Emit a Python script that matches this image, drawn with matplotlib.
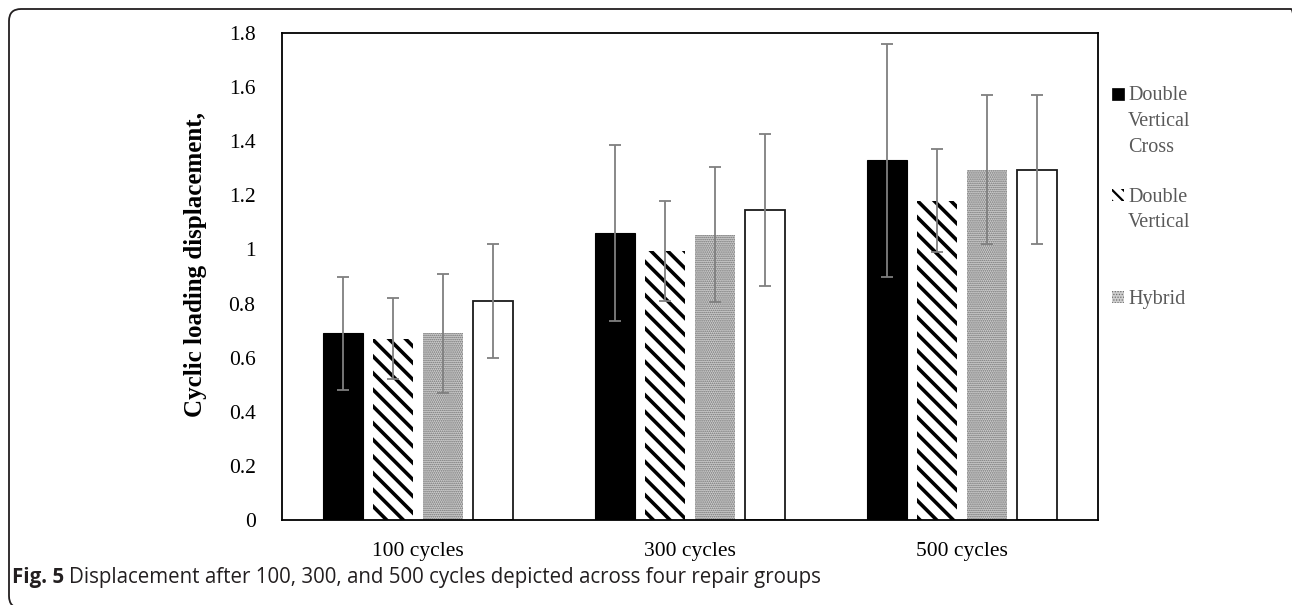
import numpy as np
import matplotlib
matplotlib.use("Agg")
import matplotlib.pyplot as plt
from matplotlib.patches import Rectangle, FancyBboxPatch
from matplotlib.transforms import IdentityTransform

# data
groups = ["100 cycles", "300 cycles", "500 cycles"]
dvc_mean = [0.69, 1.06, 1.33]
dvc_err = [0.21, 0.325, 0.43]
dv_mean = [0.67, 0.995, 1.18]
dv_err = [0.15, 0.185, 0.19]
hyb_mean = [0.69, 1.055, 1.295]
hyb_err = [0.22, 0.25, 0.275]
other_mean = [0.81, 1.145, 1.295]
other_err = [0.21, 0.28, 0.275]
legend_labels = ["Double\nVertical\nCross", "Double\nVertical", "Hybrid"]
y_ticks = [0, 0.2, 0.4, 0.6, 0.8, 1, 1.2, 1.4, 1.6, 1.8]
y_ticklabels = ["0", "0.2", "0.4", "0.6", "0.8", "1", "1.2", "1.4", "1.6", "1.8"]

SERIF = "Liberation Serif"
ERR_C = "#7f7f7f"
W, H = 1292, 605

fig = plt.figure(figsize=(W / 100, H / 100), dpi=100)
ax = fig.add_axes([282 / W, 1 - 520 / H, (1098 - 282) / W, (520 - 33) / H])

x = np.arange(len(groups))
w = 0.145
pitch = 0.184
offsets = (np.arange(4) - 1.5) * pitch
ekw = dict(ecolor=ERR_C, elinewidth=1.3, capsize=4, capthick=1.3)


def hatched_bars(pos, mean, err, lw_hatch, **kw):
    with plt.rc_context({"hatch.linewidth": lw_hatch}):
        bars = ax.bar(pos, mean, w, yerr=err, error_kw=ekw, **kw)
    for b in bars:
        if hasattr(b, "set_hatch_linewidth"):
            b.set_hatch_linewidth(lw_hatch)
    return bars


ax.bar(x + offsets[0], dvc_mean, w, yerr=dvc_err, color="black",
       edgecolor="black", linewidth=0.8, error_kw=ekw)
hatched_bars(x + offsets[1], dv_mean, dv_err, 2.6, facecolor="white",
             edgecolor="black", hatch="\\\\", linewidth=0)
hatched_bars(x + offsets[2], hyb_mean, hyb_err, 0.8, facecolor="#cfcfcf",
             edgecolor="#6e6e6e", hatch="........", linewidth=0)
ax.bar(x + offsets[3], other_mean, w, yerr=other_err, facecolor="white",
       edgecolor="#1a1a1a", linewidth=1.3, error_kw=ekw)

ax.set_xlim(-0.5, 2.5)
ax.set_ylim(0, 1.8)
ax.set_xticks(x)
ax.set_xticklabels(groups, fontfamily=SERIF, fontsize=15.5)
ax.set_yticks(y_ticks)
ax.set_yticklabels(y_ticklabels, fontfamily=SERIF, fontsize=15.5)
ax.tick_params(axis="both", length=0)
ax.tick_params(axis="y", pad=19)
ax.tick_params(axis="x", pad=16)
for s in ax.spines.values():
    s.set_linewidth(1.3)
    s.set_color("black")

ax.set_ylabel("Cyclic loading displacement,", fontfamily=SERIF,
              fontsize=18, fontweight="bold")
ax.yaxis.set_label_coords((207 - 282) / (1098 - 282), 0.525)

# legend drawn by hand so the key sits next to the first text line
entry_centers = [119, 207.5, 297]
line_step = 25.5
handles = [
    dict(facecolor="black", edgecolor="black", hatch=None, lw=0.5, hl=1.0),
    dict(facecolor="white", edgecolor="black", hatch="\\\\\\", lw=0, hl=1.6),
    dict(facecolor="#cfcfcf", edgecolor="#6e6e6e", hatch="......", lw=0, hl=0.6),
]
for lab, yc, hd in zip(legend_labels, entry_centers, handles):
    n = lab.count("\n") + 1
    first = yc - (n - 1) * line_step / 2
    with plt.rc_context({"hatch.linewidth": hd["hl"]}):
        r = Rectangle((1112 / W, (H - first - 6) / H), 12 / W, 12 / H,
                      transform=fig.transFigure, facecolor=hd["facecolor"],
                      edgecolor=hd["edgecolor"], hatch=hd["hatch"],
                      linewidth=hd["lw"])
    fig.patches.append(r)
    for i, line in enumerate(lab.split("\n")):
        fig.text(1128 / W, (H - first - i * line_step) / H, line,
                 fontfamily=SERIF, fontsize=14.5, color="#595959",
                 va="center_baseline", ha="left")

# caption
cap_y = (H - 577) / H
fig_t = fig.text(12 / W, cap_y, "Fig. 5", fontfamily="Open Sans",
                 fontsize=14.8, fontweight="bold", color="#231f20",
                 va="center")
fig.canvas.draw()
bb = fig_t.get_window_extent()
fig.text((bb.x1 + 5) / W, cap_y,
         "Displacement after 100, 300, and 500 cycles depicted across four repair groups",
         fontfamily="Open Sans", fontsize=14.8, color="#231f20", va="center")

# rounded panel border, right and bottom sides run off the picture
frame = FancyBboxPatch((9, -3), 1294, 599,
                       boxstyle="round,pad=0,rounding_size=12",
                       transform=IdentityTransform(), facecolor="none",
                       edgecolor="#231f20", linewidth=1.3)
fig.patches.append(frame)

fig.savefig("out.png", dpi=100)
